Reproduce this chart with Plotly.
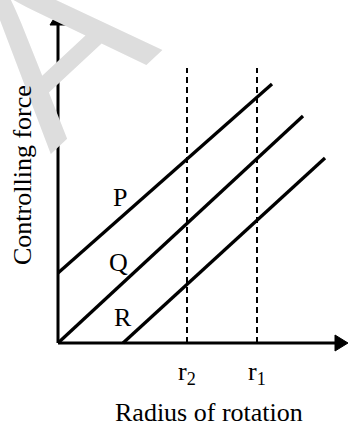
import plotly.graph_objects as go

# ---- data (arbitrary units; origin at the axes' corner) ----
line_names = ["P", "Q", "R"]
line_x0 = [0, 0, 65]
line_y0 = [70, 0, 0]
line_x1 = [214, 245, 267]
line_y1 = [259, 227, 185]

radius_names = ["r<sub>2</sub>", "r<sub>1</sub>"]
radius_values = [129, 199]
dash_top = 275

x_axis_end = 290
y_axis_end = 331

x_title = "Radius of rotation"
y_title = "Controlling force"

# ---- figure ----
W, H = 348, 426
X_RANGE = [-58, 290]
Y_RANGE = [-83, 343]
FONT = "Liberation Serif, Times New Roman, serif"
FS = 26

fig = go.Figure()

# straight lines P, Q, R
for name, x0, y0, x1, y1 in zip(line_names, line_x0, line_y0, line_x1, line_y1):
    fig.add_trace(go.Scatter(x=[x0, x1], y=[y0, y1], mode="lines",
                             line=dict(color="black", width=3.3), name=name,
                             hoverinfo="skip"))

# dashed verticals
for v in radius_values:
    fig.add_trace(go.Scatter(x=[v, v], y=[0, dash_top], mode="lines",
                             line=dict(color="black", width=2, dash="6px,4px"),
                             hoverinfo="skip"))

# axes
head = 13
half = 8
fig.add_trace(go.Scatter(x=[0, 0], y=[0, y_axis_end - head], mode="lines",
                         line=dict(color="black", width=3), hoverinfo="skip"))
fig.add_trace(go.Scatter(x=[0, x_axis_end - head], y=[0, 0], mode="lines",
                         line=dict(color="black", width=3), hoverinfo="skip"))
fig.add_trace(go.Scatter(x=[-half, half, 0, -half],
                         y=[y_axis_end - head, y_axis_end - head, y_axis_end, y_axis_end - head],
                         mode="lines", fill="toself", fillcolor="black",
                         line=dict(color="black", width=1), hoverinfo="skip"))
fig.add_trace(go.Scatter(x=[x_axis_end - head, x_axis_end - head, x_axis_end, x_axis_end - head],
                         y=[-half, half, 0, -half],
                         mode="lines", fill="toself", fillcolor="black",
                         line=dict(color="black", width=1), hoverinfo="skip"))

annotations = []
# watermark
annotations.append(dict(x=0.152, y=0.897, xref="paper", yref="paper", text="A",
                        showarrow=False, textangle=-43,
                        font=dict(family="Liberation Sans, Arial", size=230, color="#dddddd"),
                        xanchor="center", yanchor="middle"))

label_pos = {"P": (62, 146), "Q": (60, 81), "R": (65, 26)}
for name in line_names:
    lx, ly = label_pos[name]
    annotations.append(dict(x=lx, y=ly, text=name, showarrow=False,
                            font=dict(family=FONT, size=FS, color="black"),
                            xanchor="center", yanchor="middle"))

for name, v in zip(radius_names, radius_values):
    annotations.append(dict(x=v, y=-30, text=name, showarrow=False,
                            font=dict(family=FONT, size=FS, color="black"),
                            xanchor="center", yanchor="middle"))

annotations.append(dict(x=151, y=-69, text=x_title, showarrow=False,
                        font=dict(family=FONT, size=FS, color="black"),
                        xanchor="center", yanchor="middle"))
annotations.append(dict(x=-36, y=168, text=y_title, showarrow=False, textangle=-90,
                        font=dict(family=FONT, size=FS, color="black"),
                        xanchor="center", yanchor="middle"))

fig.update_layout(
    width=W, height=H,
    margin=dict(l=0, r=0, t=0, b=0),
    paper_bgcolor="white", plot_bgcolor="rgba(0,0,0,0)",
    showlegend=False,
    xaxis=dict(range=X_RANGE, visible=False, fixedrange=True),
    yaxis=dict(range=Y_RANGE, visible=False, fixedrange=True),
    annotations=annotations,
)

fig.write_html("out.html", config={"displayModeBar": False},
               post_script="document.body.style.margin='0';document.body.style.overflow='hidden';")
